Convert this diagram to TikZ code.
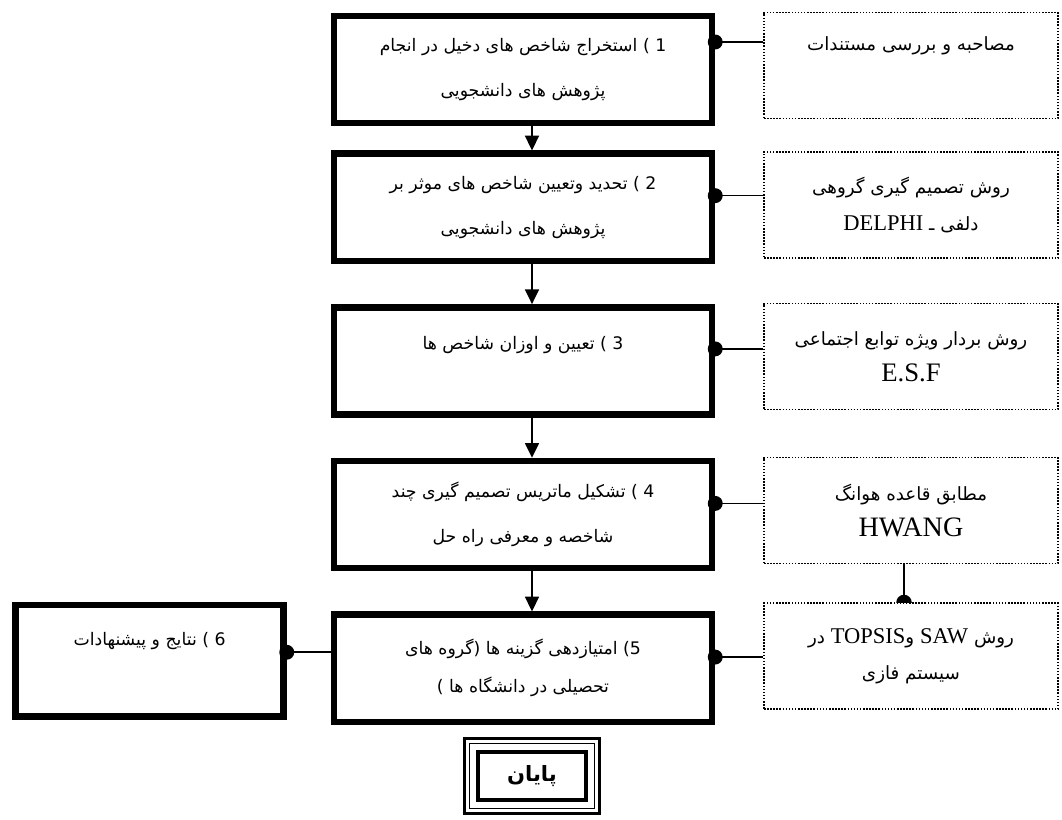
\documentclass[tikz,border=0pt]{standalone}
\usepackage{fontspec}
\setmainfont{Liberation Serif}
\newfontfamily\farsi[Script=Arabic]{DejaVu Sans}
\usetikzlibrary{positioning, arrows.meta, calc}
\TeXXeTstate=1
\newcommand{\fa}[1]{{\farsi\beginR #1\endR}}
\newcommand{\lat}[2][16]{{\fontsize{#1}{#1}\rmfamily\selectfont\beginL #2\endL}}
\pgfdeclarelayer{background}
\pgfsetlayers{background,main}
\tikzstyle{stage} = [rectangle, draw=black, line width=4.6pt, fill=white, minimum width=9.45cm, minimum height=2.68cm, align=center, font=\fontsize{12.3}{32}\selectfont]
\tikzstyle{method} = [rectangle, draw=black, dash pattern=on 1.1pt off 1.1pt, line width=1.1pt, fill=white, minimum width=7.35cm, minimum height=2.65cm, align=center, font=\fontsize{13}{26}\selectfont]
\tikzstyle{finbox} = [rectangle, draw=black, line width=3pt, fill=white, minimum width=2.7cm, minimum height=1.2cm, font=\fontsize{15}{18}\selectfont]
\tikzstyle{flow} = [line width=1.1pt, -{Triangle[width=10pt,length=10.5pt]}]
\tikzstyle{link} = [line width=1.1pt, {Circle[length=10.6pt]}-, shorten <=-5.3pt]

\begin{document}
\begin{tikzpicture}[node distance=1cm]
\useasboundingbox (-13.075,1.74) rectangle (13.475,-18.76);
% main steps
\node (b1) [stage] at (0,0) {\fa{1 ) استخراج شاخص های دخیل در انجام}\\\fa{پژوهش های دانشجویی}};
\node (b2) [stage, below=0.6cm of b1] {\fa{2 ) تحدید وتعیین شاخص های موثر بر}\\\fa{پژوهش های دانشجویی}};
\node (b3) [stage, below=of b2, text depth=0.9cm] {\fa{3 ) تعیین و اوزان شاخص ها}};
\node (b4) [stage, below=of b3] {\fa{4 ) تشکیل ماتریس تصمیم گیری چند}\\\fa{شاخصه و  معرفی راه حل}};
\node (b5) [stage, below=of b4, font=\fontsize{12.3}{27}\selectfont] {\fa{5) امتیازدهی گزینه ها (گروه های}\\\fa{تحصیلی در دانشگاه ها )}};
\node (b6) [stage, minimum width=6.7cm, minimum height=2.78cm, left=1.1cm of b5, yshift=0.19cm, text depth=1.1cm] {\fa{6 ) نتایج و پیشنهادات}};
\node (fin) [finbox, below=0.62cm of b5, xshift=0.225cm] {\fa{\bfseries پایان}};
\draw[line width=2pt] ($(fin.north west)+(-0.28,0.28)$) rectangle ($(fin.south east)+(0.28,-0.28)$);
\draw[line width=0.8pt] ($(fin.north west)+(-0.15,0.15)$) rectangle ($(fin.south east)+(0.15,-0.15)$);

% methods
\node (d1) [method, right=1.2cm of b1, yshift=0.1cm, text depth=1.1cm] {\fa{مصاحبه و بررسی مستندات}};
\node (d2) [method, right=1.2cm of b2, yshift=0.06cm] {\fa{روش تصمیم گیری گروهی}\\\fa{دلفی ـ \lat{DELPHI}}};
\node (d3) [method, right=1.2cm of b3, yshift=0.11cm] {\fa{روش بردار ویژه توابع اجتماعی}\\\lat[19]{E.S.F}};
\node (d4) [method, right=1.2cm of b4, yshift=0.1cm] {\fa{مطابق قاعده هوانگ}\\\lat[20]{HWANG}};
\node (d5) [method, right=1.2cm of b5, yshift=0.3cm] {\fa{روش \lat{SAW} و\lat{TOPSIS} در}\\\fa{سیستم فازی}};

% connectors
\draw[flow] ([xshift=0.225cm]b1.south) -- ([xshift=0.225cm]b2.north);
\draw[flow] ([xshift=0.225cm]b2.south) -- ([xshift=0.225cm]b3.north);
\draw[flow] ([xshift=0.225cm]b3.south) -- ([xshift=0.225cm]b4.north);
\draw[flow] ([xshift=0.225cm]b4.south) -- ([xshift=0.225cm]b5.north);

\draw[link] ([yshift=0.69cm]b1.east) coordinate (p1) -- (p1 -| d1.west);
\draw[link] ([yshift=0.29cm]b2.east) coordinate (p2) -- (p2 -| d2.west);
\draw[link] ([yshift=0.3cm]b3.east) coordinate (p3) -- (p3 -| d3.west);
\draw[link] ([yshift=0.28cm]b4.east) coordinate (p4) -- (p4 -| d4.west);
\draw[link] ([yshift=0.28cm]b5.east) coordinate (p5) -- (p5 -| d5.west);
\draw[link] ([yshift=0.21cm]b6.east) coordinate (p6) -- (p6 -| b5.west);

\begin{pgfonlayer}{background}
\draw[line width=1.6pt, -{Circle[length=11pt]}, shorten >=-5.5pt] ([xshift=-0.175cm]d4.south) -- ([xshift=-0.175cm]d5.north);
\end{pgfonlayer}
\end{tikzpicture}
\end{document}
